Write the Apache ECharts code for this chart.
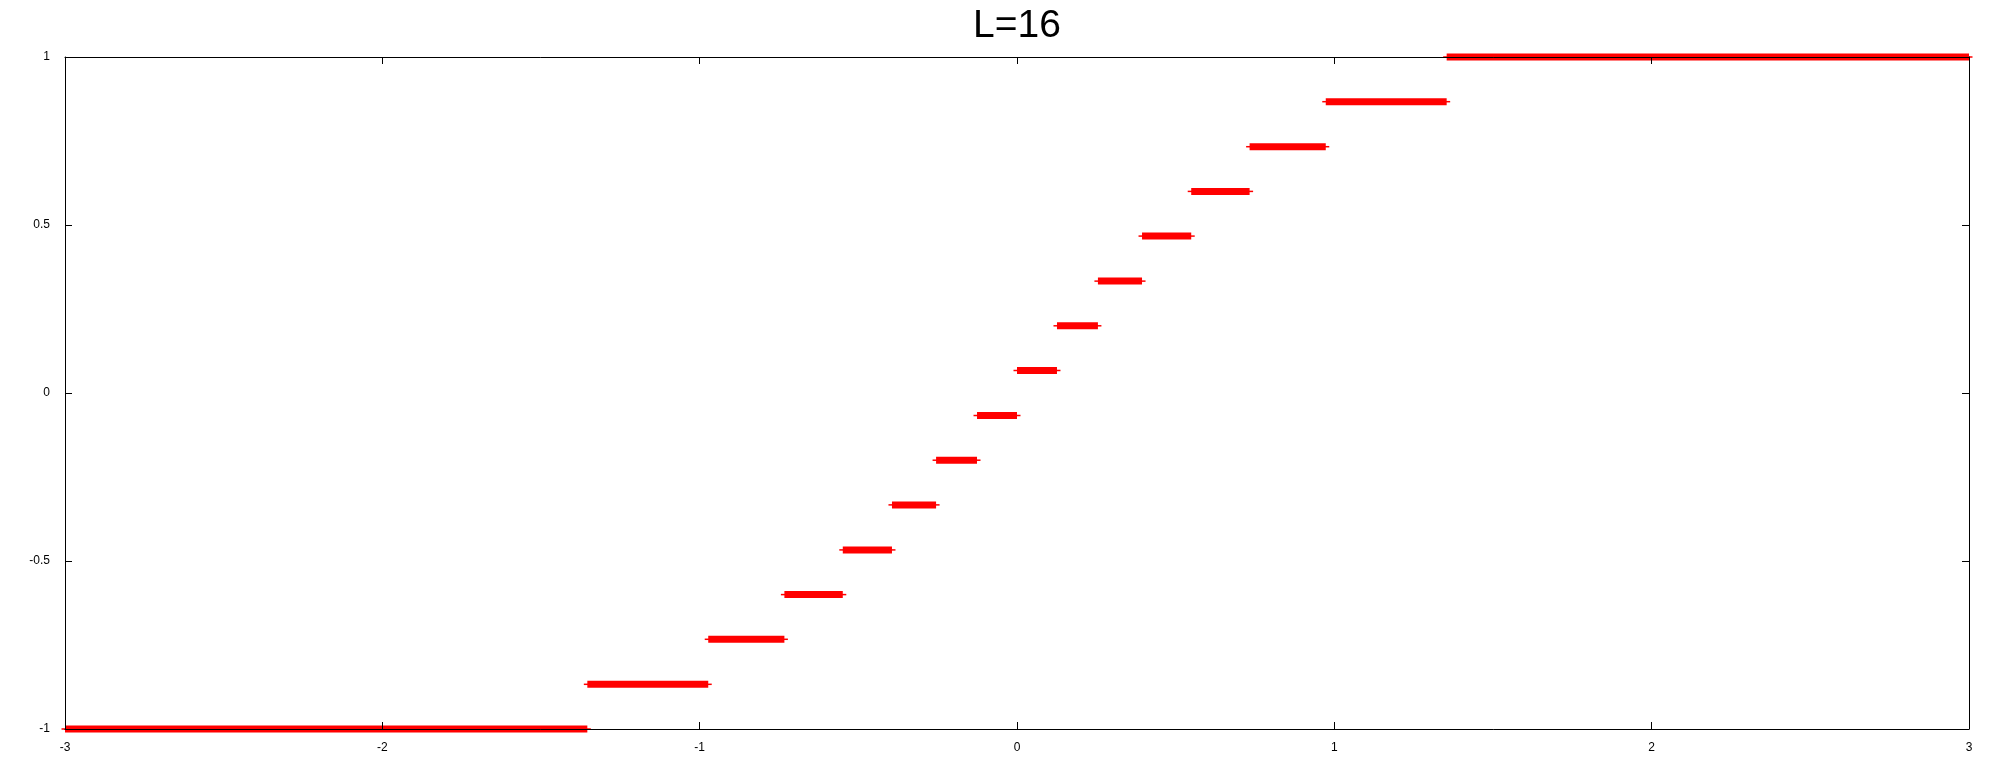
<!DOCTYPE html>
<html>
<head>
<meta charset="utf-8">
<script src="https://cdn.jsdelivr.net/npm/echarts@6/dist/echarts.min.js"></script>
<style>html,body{margin:0;padding:0;background:#fff}#c{width:2000px;height:768px}</style>
</head>
<body>
<div id="c"></div>
<script>
const titleText = 'L=16';
const levels   = [-1, -0.867, -0.733, -0.6, -0.467, -0.333, -0.2, -0.067, 0.067, 0.2, 0.333, 0.467, 0.6, 0.733, 0.867, 1];
const segStart = [-3, -1.354, -0.973, -0.733, -0.549, -0.394, -0.255, -0.126, 0, 0.126, 0.255, 0.394, 0.549, 0.733, 0.973, 1.354];
const segEnd   = [-1.354, -0.973, -0.733, -0.549, -0.394, -0.255, -0.126, 0, 0.126, 0.255, 0.394, 0.549, 0.733, 0.973, 1.354, 3];
const xTicks = [-3, -2, -1, 0, 1, 2, 3];
const yTicks = [-1, -0.5, 0, 0.5, 1];

const font = 'Liberation Sans, Arial, Helvetica, sans-serif';
const series = levels.map((lv, i) => ({
  type: 'line',
  data: [[segStart[i], lv], [segEnd[i], lv]],
  lineStyle: { color: '#ff0000', width: 7 },
  itemStyle: { color: '#ff0000' },
  symbol: 'rect',
  symbolSize: [7, 1.5],
  showSymbol: true,
  clip: false,
  silent: true,
  animation: false,
  z: 2
}));

const axisCommon = {
  type: 'value',
  z: 5,
  axisLine: { show: true, onZero: false, lineStyle: { color: '#000', width: 1 } },
  axisTick: { show: true, inside: true, length: 7, lineStyle: { color: '#000', width: 1 } },
  splitLine: { show: false }
};

const chart = echarts.init(document.getElementById('c'));
chart.setOption({
  backgroundColor: '#fff',
  animation: false,
  title: {
    text: titleText,
    left: 968,
    top: 2,
    textStyle: { fontFamily: font, fontSize: 39, fontWeight: 'normal', color: '#000' }
  },
  grid: { left: 65, right: 31, top: 57, bottom: 39, containLabel: false },
  xAxis: [
    Object.assign({}, axisCommon, {
      position: 'bottom', min: xTicks[0], max: xTicks[xTicks.length - 1], interval: 1,
      axisLabel: { show: true, fontFamily: font, fontSize: 12, color: '#000', margin: 13 }
    }),
    Object.assign({}, axisCommon, {
      position: 'top', min: xTicks[0], max: xTicks[xTicks.length - 1], interval: 1,
      axisLabel: { show: false }
    })
  ],
  yAxis: [
    Object.assign({}, axisCommon, {
      position: 'left', min: yTicks[0], max: yTicks[yTicks.length - 1], interval: 0.5,
      axisLabel: { show: true, fontFamily: font, fontSize: 12, color: '#000', margin: 15 }
    }),
    Object.assign({}, axisCommon, {
      position: 'right', min: yTicks[0], max: yTicks[yTicks.length - 1], interval: 0.5,
      axisLabel: { show: false }
    })
  ],
  series: series
});
</script>
</body>
</html>
